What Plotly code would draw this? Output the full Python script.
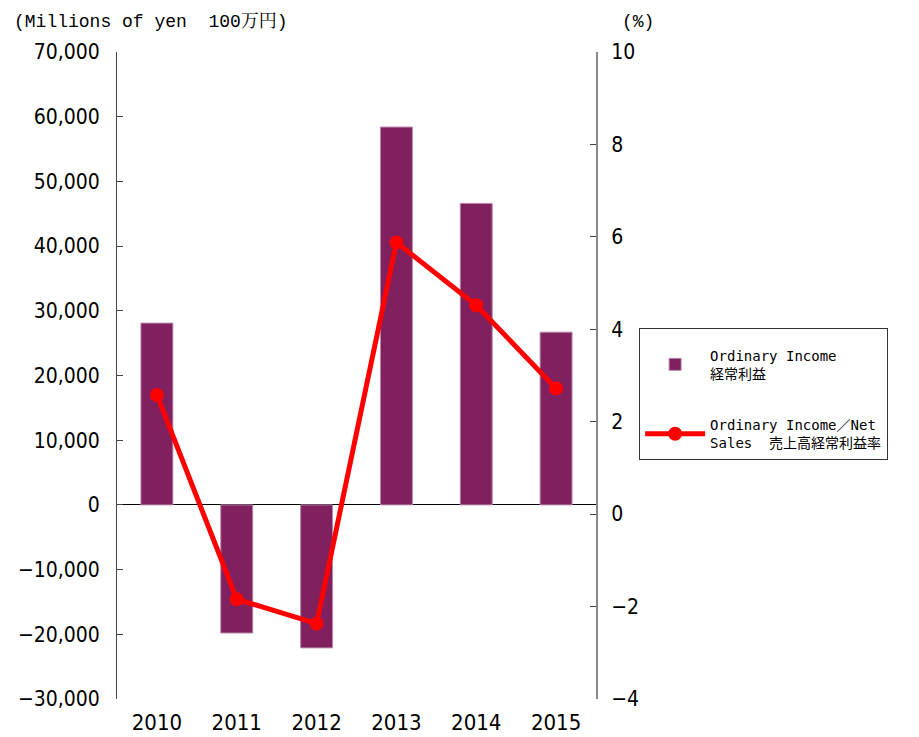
import plotly.graph_objects as go

years = ["2010", "2011", "2012", "2013", "2014", "2015"]
ordinary_income = [28100, -19800, -22100, 58400, 46600, 26700]
income_ratio = [2.58, -1.84, -2.37, 5.88, 4.52, 2.72]

narrow = "Liberation Sans Narrow, DejaVu Sans Condensed, Liberation Sans, Arial"
ytick_font = dict(family=narrow, size=21, color="black")
xtick_font = dict(family=narrow, size=22, color="black")
legend_font = dict(family="DejaVu Sans Mono, Noto Sans CJK JP", size=14, color="black")

fig = go.Figure()
fig.add_trace(go.Bar(
    x=years, y=ordinary_income, name="Ordinary Income<br>経常利益",
    marker=dict(color="#80205F", line=dict(color="#B888A8", width=1)),
    legendgroup="a", yaxis="y",
))
fig.add_trace(go.Scatter(
    x=years, y=income_ratio, name="Ordinary Income／Net<br>Sales  売上高経常利益率",
    mode="lines+markers", line=dict(color="#FF0000", width=5),
    marker=dict(color="#FF0000", size=14),
    legendgroup="b", yaxis="y2",
))

# page body adds 8px, so the figure is 8px smaller than the window
fig.update_layout(
    width=911, height=729,
    margin=dict(l=109, r=323, t=44, b=38, autoexpand=False),
    plot_bgcolor="white", paper_bgcolor="white",
    bargap=0.6,
    showlegend=True,
    legend=dict(
        x=1.09, y=0.573, xanchor="left", yanchor="top",
        bordercolor="#333333", borderwidth=1, font=legend_font,
        tracegroupgap=30, traceorder="grouped",
        itemwidth=60,
        title=dict(text=" ", font=dict(size=8)),
    ),
    xaxis=dict(
        type="category", showline=False, ticks="", tickfont=xtick_font,
        ticklabelstandoff=8, automargin=False,
    ),
    yaxis=dict(
        range=[-30000, 70000], dtick=10000, tickformat=",",
        showline=True, linecolor="#444444", linewidth=1,
        ticks="inside", ticklen=6, tickcolor="#444444",
        showgrid=False, zeroline=True, zerolinecolor="black", zerolinewidth=1,
        tickfont=ytick_font, ticklabelstandoff=12, automargin=False,
    ),
    yaxis2=dict(
        range=[-4, 10], dtick=2, overlaying="y", side="right",
        showline=True, linecolor="#888888", linewidth=2,
        ticks="inside", ticklen=6, tickcolor="#444444",
        showgrid=False, zeroline=False,
        tickfont=ytick_font, ticklabelstandoff=9, automargin=False,
    ),
    annotations=[
        dict(text="(Millions of yen  100万円)", xref="paper", yref="paper",
             x=(12 - 117) / 479, y=1.0 + 30 / 647, xanchor="left", yanchor="middle",
             showarrow=False,
             font=dict(family="Liberation Mono, Noto Serif CJK JP, Noto Sans CJK JP", size=18, color="black")),
        dict(text="(%)", xref="paper", yref="paper",
             x=(620 - 117) / 479, y=1.0 + 30 / 647, xanchor="left", yanchor="middle",
             showarrow=False,
             font=dict(family="Liberation Mono, Noto Sans CJK JP", size=18, color="black")),
    ],
)

fig.write_html("out.html")
